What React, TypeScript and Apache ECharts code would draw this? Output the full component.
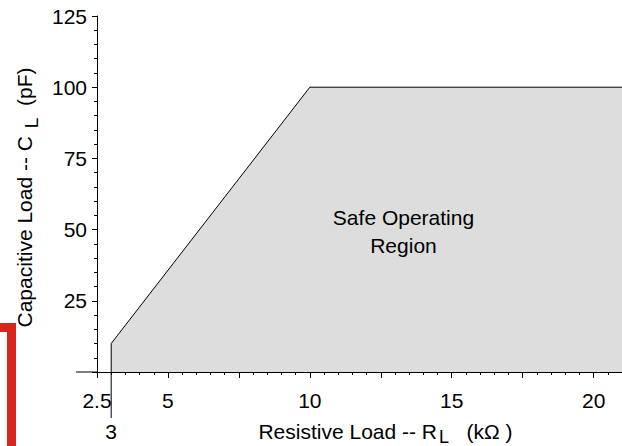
import React, { useEffect, useRef } from 'react';
import * as echarts from 'echarts';

// ---- data ----
const X_MIN = 2.5;
const X_MAX = 21;
const X_INTERVAL = 2.5;
const Y_MIN = 0;
const Y_MAX = 125;
const Y_INTERVAL = 25;
const X_TICK_LABELS = [2.5, 5, 10, 15, 20];
const Y_TICK_LABELS = [25, 50, 75, 100, 125];
const REGION_X = [3, 3, 10, 21];
const REGION_Y = [0, 10, 100, 100];
const EXTRA_X_TICK = 3;
const REGION_LABEL = 'Safe Operating\nRegion';
const REGION_LABEL_AT = [13.3, 49.3];

const FONT = '"Liberation Sans", Arial, Helvetica, sans-serif';

export default function App() {
  const ref = useRef<HTMLDivElement>(null);

  useEffect(() => {
    if (!ref.current) return;
    const chart = echarts.init(ref.current, undefined, { renderer: 'svg' });
    const option: any = {
      animation: false,
      backgroundColor: '#ffffff',
      grid: { left: 97, top: 16, right: 0, bottom: 74, containLabel: false, outerBoundsMode: 'none' },
      xAxis: {
        type: 'value',
        min: X_MIN,
        max: X_MAX,
        interval: X_INTERVAL,
        z: 5,
        name: '{a|Resistive Load -- R}{s|L}{a|   (kΩ )}',
        nameLocation: 'middle',
        nameGap: 44,
        nameTextStyle: {
          padding: [0, 0, 0, 52],
          rich: {
            a: { fontSize: 21, fontFamily: FONT, color: '#000' },
            s: { fontSize: 18, fontFamily: FONT, color: '#000', padding: [12, 0, 0, 2] },
          },
        },
        axisLine: { show: true, onZero: false, lineStyle: { color: '#000', width: 1 } },
        axisTick: { show: true, inside: false, length: 6, lineStyle: { color: '#000', width: 1 } },
        minorTick: { show: true, splitNumber: 5, length: 3, lineStyle: { color: '#000', width: 1 } },
        splitLine: { show: false },
        minorSplitLine: { show: false },
        axisLabel: {
          show: true,
          margin: 18,
          fontSize: 21,
          fontFamily: FONT,
          color: '#000',
          showMinLabel: true,
          showMaxLabel: true,
          formatter: (v: number) => (X_TICK_LABELS.some((t) => Math.abs(t - v) < 1e-6) ? String(v) : ''),
        },
      },
      yAxis: {
        type: 'value',
        min: Y_MIN,
        max: Y_MAX,
        interval: Y_INTERVAL,
        z: 5,
        name: '{a|Capacitive Load -- C }{s|L}{a|  (pF)}',
        nameLocation: 'middle',
        nameRotate: 90,
        nameGap: 50,
        nameTextStyle: {
          padding: [0, 7, 0, 0],
          rich: {
            a: { fontSize: 21, fontFamily: FONT, color: '#000' },
            s: { fontSize: 19, fontFamily: FONT, color: '#000', padding: [14, 0, 0, 2] },
          },
        },
        axisLine: { show: true, onZero: false, lineStyle: { color: '#000', width: 1 } },
        axisTick: { show: true, inside: false, length: 5, lineStyle: { color: '#000', width: 1 } },
        minorTick: { show: true, splitNumber: 5, length: 3, lineStyle: { color: '#000', width: 1 } },
        splitLine: { show: false },
        minorSplitLine: { show: false },
        axisLabel: {
          show: true,
          margin: 10,
          fontSize: 21,
          fontFamily: FONT,
          color: '#000',
          formatter: (v: number) => (Y_TICK_LABELS.includes(v) ? String(v) : ''),
        },
      },
      series: [
        {
          type: 'line',
          data: REGION_X.map((x, i) => [x, REGION_Y[i]]),
          symbol: 'none',
          lineStyle: { color: '#000', width: 1 },
          areaStyle: { color: '#dddddd', opacity: 1 },
          z: 2,
        },
      ],
    };
    chart.setOption(option);

    const origin = chart.convertToPixel({ gridIndex: 0 }, [X_MIN, Y_MIN]) as number[];
    const p3 = chart.convertToPixel({ gridIndex: 0 }, [EXTRA_X_TICK, Y_MIN]) as number[];
    const pl = chart.convertToPixel({ gridIndex: 0 }, REGION_LABEL_AT) as number[];

    chart.setOption({
      graphic: [
        {
          type: 'line',
          shape: { x1: origin[0] - 21, y1: origin[1], x2: origin[0], y2: origin[1] },
          style: { stroke: '#000', lineWidth: 1 },
          z: 10,
        },
        {
          type: 'line',
          shape: { x1: p3[0], y1: p3[1], x2: p3[0], y2: p3[1] + 46 },
          style: { stroke: '#000', lineWidth: 1 },
          z: 10,
        },
        {
          type: 'text',
          x: p3[0],
          y: p3[1] + 59,
          style: {
            text: String(EXTRA_X_TICK),
            fontSize: 21,
            fontFamily: FONT,
            fill: '#000',
            align: 'center',
            verticalAlign: 'middle',
          },
          z: 10,
        },
        {
          type: 'text',
          x: pl[0],
          y: pl[1],
          style: {
            text: REGION_LABEL,
            fontSize: 21,
            fontFamily: FONT,
            lineHeight: 28,
            fill: '#000',
            align: 'center',
            verticalAlign: 'middle',
          },
          z: 10,
        },
        {
          type: 'rect',
          shape: { x: 0, y: 323, width: 16, height: 9 },
          style: { fill: '#d9261c' },
          z: 10,
        },
        {
          type: 'rect',
          shape: { x: 7, y: 323, width: 9, height: 123 },
          style: { fill: '#d9261c' },
          z: 10,
        },
      ],
    });

    return () => chart.dispose();
  }, []);

  return (
    <div
      ref={ref}
      style={{ position: 'fixed', left: 0, top: 0, width: 622, height: 446, background: '#fff' }}
    />
  );
}
